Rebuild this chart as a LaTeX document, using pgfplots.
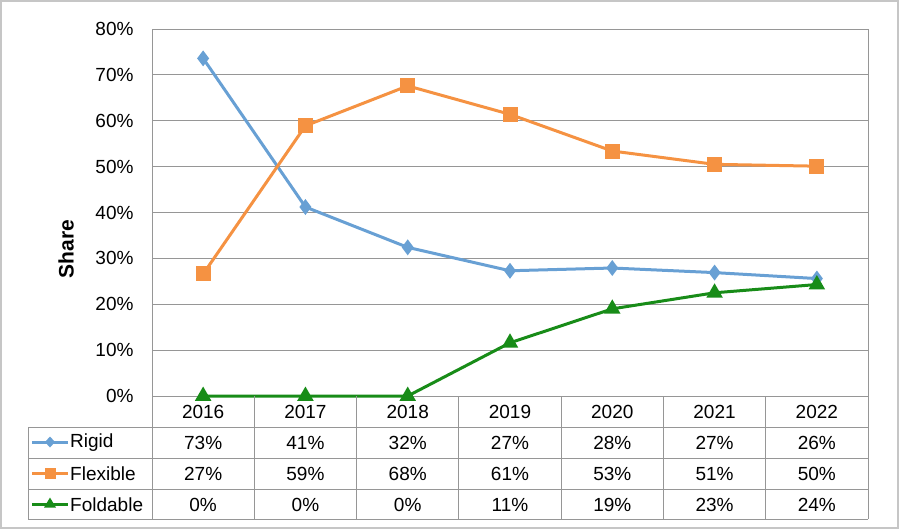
\documentclass[border=0pt]{standalone}
\usepackage{pgfplots}
\pgfplotsset{compat=1.18}
\usepackage{fontspec}
\setmainfont{Liberation Sans}
\definecolor{rigid}{RGB}{104,160,212}
\definecolor{flex}{RGB}{245,146,66}
\definecolor{fold}{RGB}{24,140,24}
\definecolor{gridc}{RGB}{150,150,150}
\begin{document}
\begin{tikzpicture}
\useasboundingbox (0,0) rectangle (899bp,-531bp);
\draw[gray!45, line width=1.5bp] (1bp,-1bp) rectangle (898bp,-528bp);
\begin{axis}[
  scale only axis, width=716bp, height=367bp,
  at={(152bp,-396bp)}, anchor=south west,
  xmin=-0.5, xmax=6.5, ymin=0, ymax=80,
  xtick=\empty, ytick={0,10,...,80},
  yticklabels={0\%,10\%,20\%,30\%,40\%,50\%,60\%,70\%,80\%},
  /pgf/number format/assume math mode=true,
  tick label style={font=\fontsize{19bp}{22bp}\selectfont},
  yticklabel style={xshift=-15bp},
  major tick length=0pt,
  ymajorgrids, grid style={gridc, line width=1bp},
  axis line style={gridc, line width=1bp},
  clip=false,
]
\addplot[rigid, line width=3bp, mark=diamond*, mark size=5.5bp, mark options={solid}] coordinates {
(0,73.6) (1,41.2) (2,32.4) (3,27.3) (4,27.9) (5,26.9) (6,25.6)};
\addplot[flex, line width=3bp, mark=square*, mark size=6bp] coordinates {
(0,26.6) (1,58.9) (2,67.6) (3,61.4) (4,53.4) (5,50.5) (6,50.1)};
\addplot[fold, line width=3bp, mark=triangle*, mark size=6.5bp] coordinates {
(0,0) (1,0) (2,0) (3,11.6) (4,19.0) (5,22.5) (6,24.3)};
\end{axis}
\node[rotate=90, font=\bfseries\fontsize{21bp}{23bp}\selectfont] at (66bp,-249bp) {Share};
\begin{scope}[x=1bp, y=-1bp, font=\fontsize{19bp}{22bp}\selectfont]
  \draw[gridc, line width=1bp] (28,427) -- (868,427);
  \draw[gridc, line width=1bp] (28,458) -- (868,458);
  \draw[gridc, line width=1bp] (28,489) -- (868,489);
  \draw[gridc, line width=1bp] (28,519) -- (868,519);
  \draw[gridc, line width=1bp] (28,427) -- (28,519);
  \foreach \i in {0,...,7} {
    \draw[gridc, line width=1bp] ({152+\i*102.2857},396) -- ({152+\i*102.2857},519);
  }
  \foreach \y [count=\i from 0] in {2016,2017,2018,2019,2020,2021,2022} {
    \node at ({203.14+\i*102.2857},412) {\y};
  }
  \foreach \v [count=\i from 0] in {73\%,41\%,32\%,27\%,28\%,27\%,26\%} {
    \node at ({203.14+\i*102.2857},443) {\v};
  }
  \foreach \v [count=\i from 0] in {27\%,59\%,68\%,61\%,53\%,51\%,50\%} {
    \node at ({203.14+\i*102.2857},474) {\v};
  }
  \foreach \v [count=\i from 0] in {0\%,0\%,0\%,11\%,19\%,23\%,24\%} {
    \node at ({203.14+\i*102.2857},505) {\v};
  }
  \draw[rigid, line width=3bp] (32,442) -- (68,442);
  \fill[rigid] (50,436.5) -- (55,442) -- (50,447.5) -- (45,442) -- cycle;
  \node[anchor=west, inner sep=1bp] at (69,443) {Rigid};
  \draw[flex, line width=3bp] (32,473) -- (68,473);
  \fill[flex] (44.5,467.5) rectangle (55.5,478.5);
  \node[anchor=west, inner sep=1bp] at (69,474) {Flexible};
  \draw[fold, line width=3bp] (32,504) -- (68,504);
  \fill[fold] (50,497.5) -- (56,507.5) -- (44,507.5) -- cycle;
  \node[anchor=west, inner sep=1bp] at (69,505) {Foldable};
\end{scope}
\end{tikzpicture}
\end{document}
